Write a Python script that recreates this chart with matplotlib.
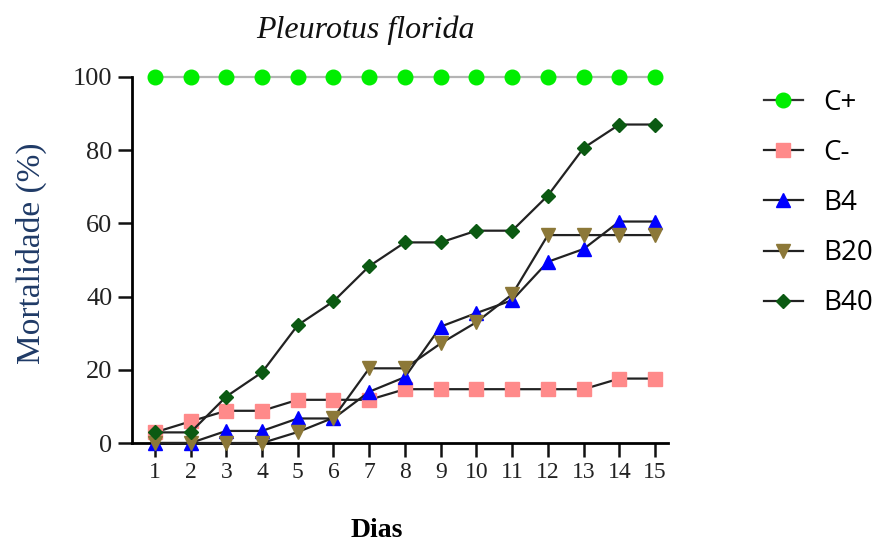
import matplotlib
matplotlib.use("Agg")
import matplotlib.pyplot as plt

# Data (mortality %, days 1-15)
days = list(range(1, 16))
c_pos = [100] * 15
c_neg = [2.9, 5.9, 8.8, 8.8, 11.8, 11.8, 11.8, 14.7, 14.7, 14.7, 14.7, 14.7, 14.7, 17.6, 17.6]
b4 = [0, 0, 3.3, 3.3, 6.7, 6.7, 14.0, 18.0, 31.8, 35.5, 39.0, 49.5, 53.0, 60.5, 60.5]
b20 = [0, 0, 0, 0, 3.0, 6.9, 20.4, 20.4, 27.2, 33.0, 40.6, 56.8, 56.8, 56.8, 56.8]
b40 = [2.9, 2.9, 12.7, 19.3, 32.2, 38.7, 48.3, 54.8, 54.8, 58.0, 58.0, 67.6, 80.6, 87.0, 87.0]

series = [
    ("C+", c_pos, "o", "#00ee00", "#b4b4b4", 10.5),
    ("C-", c_neg, "s", "#ff8a8a", "#222222", 10),
    ("B4", b4, "^", "#0000ff", "#222222", 10),
    ("B20", b20, "v", "#8c7838", "#222222", 10),
    ("B40", b40, "D", "#0b5a12", "#222222", 7.5),
]

fig = plt.figure(figsize=(8.88, 5.48), dpi=100)
ax = fig.add_axes([0.1486, 0.1916, 0.6036, 0.668])

for name, vals, mk, fc, lc, ms in series:
    ax.plot(days, vals, color=lc, linewidth=1.6, marker=mk, markersize=ms,
            markerfacecolor=fc, markeredgecolor=fc, label=name, clip_on=False,
            zorder=3)

ax.set_xlim(0.36, 15.36)
ax.set_ylim(0, 100)
ax.set_xticks(days)
ax.set_yticks([0, 20, 40, 60, 80, 100])

for side in ("top", "right"):
    ax.spines[side].set_visible(False)
for side in ("left", "bottom"):
    ax.spines[side].set_linewidth(2.0)

serif = ["Liberation Serif", "DejaVu Serif"]
ax.tick_params(direction="out", length=10, width=1.8, colors="#111111")
ax.tick_params(axis="x", pad=4)
ax.tick_params(axis="y", pad=4)
for lbl in ax.get_xticklabels():
    lbl.set_fontfamily(serif)
    lbl.set_fontsize(17)
    lbl.set_color("#222222")
for lbl in ax.get_yticklabels():
    lbl.set_fontfamily(serif)
    lbl.set_fontsize(19)
    lbl.set_color("#222222")

ax.text(0.435, 1.128, "Pleurotus florida", transform=ax.transAxes,
        family=serif, style="italic", fontsize=23, color="#111111",
        ha="center", va="center")
ax.set_xlabel("Dias", family=serif, fontweight="bold", fontsize=20)
ax.xaxis.set_label_coords(0.457, -0.205)
ax.set_ylabel("Mortalidade (%)", family=serif, fontsize=24, color="#1f3a66")
ax.yaxis.set_label_coords(-0.158, 0.519)

leg = fig.legend(loc="upper left", bbox_to_anchor=(0.832, 0.884), frameon=False,
                 prop={"family": "Open Sans", "size": 20}, handlelength=1.4,
                 handletextpad=0.75, labelspacing=0.8)
# the legend key for C+ is drawn with a dark line in the reference
leg.get_lines()[0].set_color("#333333")

fig.savefig("out.png", dpi=100)
